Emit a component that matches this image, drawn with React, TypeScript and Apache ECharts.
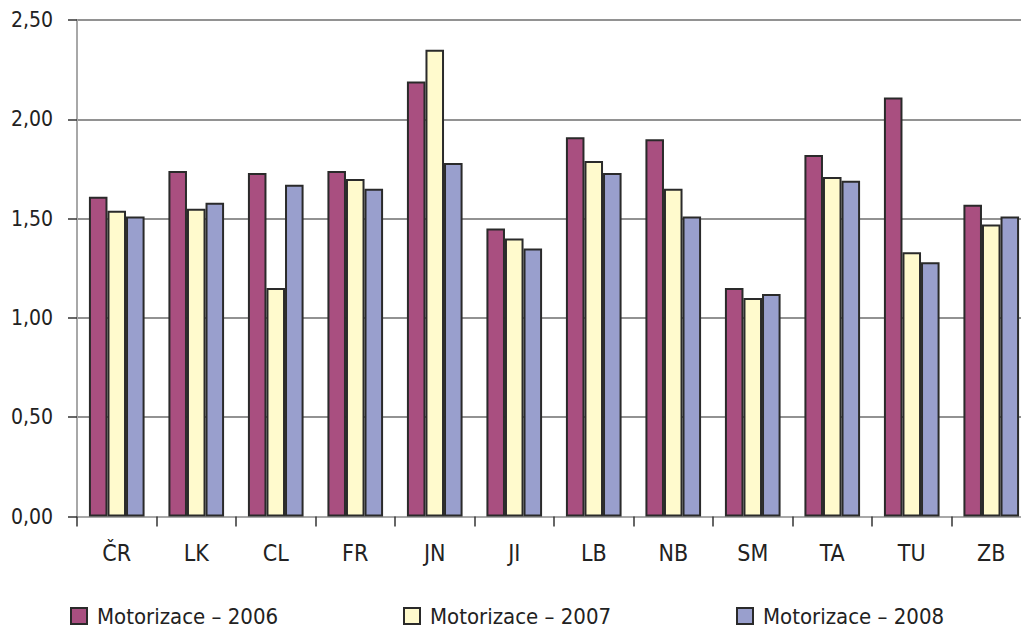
import React, { useEffect, useRef } from "react";
import * as echarts from "echarts";

const categories = ["ČR", "LK", "CL", "FR", "JN", "JI", "LB", "NB", "SM", "TA", "TU", "ZB"];
const seriesNames = ["Motorizace – 2006", "Motorizace – 2007", "Motorizace – 2008"];
const values2006 = [1.61, 1.74, 1.73, 1.74, 2.19, 1.45, 1.91, 1.90, 1.15, 1.82, 2.11, 1.57];
const values2007 = [1.54, 1.55, 1.15, 1.70, 2.35, 1.40, 1.79, 1.65, 1.10, 1.71, 1.33, 1.47];
const values2008 = [1.51, 1.58, 1.67, 1.65, 1.78, 1.35, 1.73, 1.51, 1.12, 1.69, 1.28, 1.51];
const colors = ["#A94F80", "#FFFACD", "#999FCD"];

const FONT = "'DejaVu Sans Condensed', 'DejaVu Sans', sans-serif";

export default function App() {
  const ref = useRef<HTMLDivElement>(null);
  useEffect(() => {
    if (!ref.current) return;
    const chart = echarts.init(ref.current, undefined, { renderer: "svg" });
    const allValues = [values2006, values2007, values2008];
    const legendLefts = [70, 403, 736];
    chart.setOption({
      animation: false,
      backgroundColor: "#ffffff",
      textStyle: { fontFamily: FONT },
      grid: {
        left: 77,
        top: 20,
        width: 954,
        height: 496.5,
        containLabel: false,
        outerBoundsMode: "none",
      },
      legend: seriesNames.map((n, i) => ({
        data: [n],
        left: legendLefts[i],
        top: 605,
        padding: 0,
        itemWidth: 16,
        itemHeight: 16,
        icon: "rect",
        textStyle: {
          fontSize: 22,
          color: "#222",
          fontFamily: FONT,
          padding: [0, 0, 0, 5],
          lineHeight: 18,
        },
      })),
      xAxis: {
        type: "category",
        data: categories,
        axisLine: { show: true, lineStyle: { color: "#a8a8a8", width: 2 } },
        axisTick: { show: true, length: 10, lineStyle: { color: "#333", width: 1.5 } },
        axisLabel: { fontSize: 23, color: "#222", margin: 25, fontFamily: FONT },
      },
      yAxis: {
        type: "value",
        min: 0,
        max: 2.5,
        interval: 0.5,
        axisLine: { show: true, lineStyle: { color: "#a8a8a8", width: 2 } },
        axisTick: { show: true, length: 9, lineStyle: { color: "#333", width: 1.5 } },
        axisLabel: {
          fontSize: 21,
          color: "#222",
          margin: 24,
          fontFamily: FONT,
          formatter: (v: number) => v.toFixed(2).replace(".", ","),
        },
        splitLine: { show: true, lineStyle: { color: "#6e6e6e", width: 1.5 } },
      },
      series: seriesNames.map((n, i) => ({
        name: n,
        type: "bar",
        data: allValues[i],
        barGap: "0%",
        barCategoryGap: "30%",
        itemStyle: { color: colors[i], borderColor: "#2a2a2a", borderWidth: 2 },
      })),
    });
    return () => chart.dispose();
  }, []);
  return (
    <div
      ref={ref}
      style={{ position: "fixed", left: 0, top: 0, width: 1021, height: 628, background: "#fff" }}
    />
  );
}
